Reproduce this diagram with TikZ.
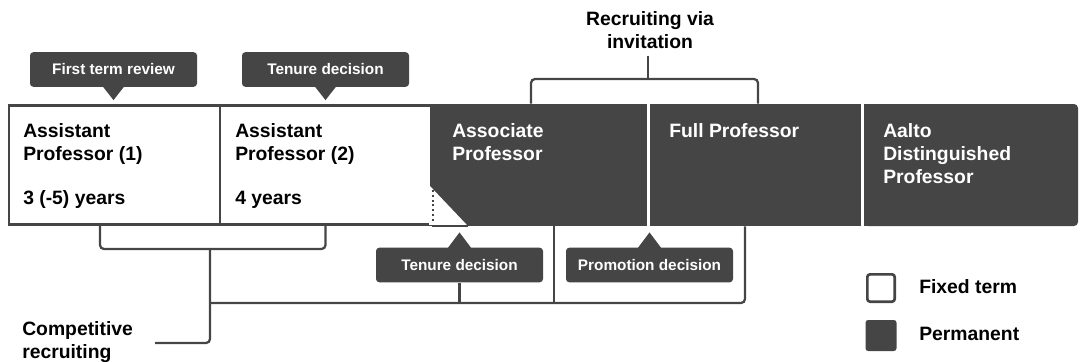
\documentclass[tikz,border=0pt]{standalone}
\usepackage{fontspec}
\setmainfont{Liberation Sans}
\usetikzlibrary{calc}
\definecolor{slate}{HTML}{454545}
\begin{document}
\begin{tikzpicture}[x=0.75pt,y=-0.75pt]
\tikzstyle{fixedbox}=[draw=slate, line width=2pt, fill=white, minimum height=89.25pt, inner sep=0pt]
\tikzstyle{permbox}=[fill=slate, minimum height=91.5pt, inner sep=0pt]
\tikzstyle{boxtext}=[anchor=north west, align=left, inner sep=0pt, font=\fontsize{14.5}{17.25}\selectfont\bfseries]
\tikzstyle{tag}=[fill=slate, text=white, rounded corners=2.5pt, minimum width=125.25pt, minimum height=26pt, inner sep=0pt, font=\fontsize{11.5}{13}\selectfont\bfseries]
\tikzstyle{link}=[draw=slate, line width=1.7pt, rounded corners=3pt]
\useasboundingbox (0,0) rectangle (1080,361);
\node[fixedbox, minimum width=158.25pt] (asst1) at (114.5,165) {};
\node[fixedbox, minimum width=158.25pt] (asst2) at (325.5,165) {};
\node[permbox, minimum width=162pt] (assoc) at (539,165) {};
\node[permbox, minimum width=158.25pt] (fullprof) at (755.5,165) {};
\node[permbox, minimum width=160.5pt, rounded corners=3pt] (aalto) at (971,165) {};
\fill[slate] (aalto.north west) rectangle ($(aalto.south west)+(10,0)$);
\fill[white] ($(assoc.south west)+(-1.5,-1.5)$) -- ($(assoc.south west)+(-1.5,-41)$) -- ($(assoc.south west)+(36,-1.5)$) -- cycle;
\draw[slate, line width=2pt] (asst2.south east) -- ++(36,0);
\draw[slate, line width=1.6pt, dotted] ($(asst2.south east)+(1,-5)$) -- ($(asst2.south east)+(1,-37)$);
\node[boxtext] (asst1txt) at (23,123) {Assistant\\Professor (1)\\[16pt]3 (-5) years};
\node[boxtext] (asst2txt) at (235,123) {Assistant\\Professor (2)\\[16pt]4 years};
\node[boxtext, text=white] (assoctxt) at (452,123) {Associate\\Professor};
\node[boxtext, text=white] (fulltxt) at (669,123) {Full Professor};
\node[boxtext, text=white] (aaltotxt) at (883,123) {Aalto\\Distinguished\\Professor};
\node[tag] (review) at (113.5,69.5) {First term review};
\node[tag] (tenure1) at (325.5,69.5) {Tenure decision};
\node[tag] (tenure2) at (459.5,265) {Tenure decision};
\node[tag] (promo) at (649.5,265) {Promotion decision};
\foreach \t in {review,tenure1}
  \fill[slate] (\t.south) ++(-11,-1) -- ++(22,0) -- ++(-11,14) -- cycle;
\foreach \t in {tenure2,promo}
  \fill[slate] (\t.north) ++(-12,1) -- ++(24,0) -- ++(-12,-16) -- cycle;
\node[boxtext] (compet) at (22,321) {Competitive\\recruiting};
\node[boxtext, anchor=north, align=center] (invite) at (650,11) {Recruiting via\\invitation};
\coordinate (split) at (210,249);
\coordinate (hub) at (210,303);
\coordinate (cend) at (155,343);
\coordinate (inv) at (648,79);
\draw[link] ($(asst1.south)+(-14.5,0)$) |- (split) -| (asst2.south);
\draw[link] (split) |- (cend);
\draw[link] (hub) -| ($(fullprof.south)+(-10.5,0)$);
\draw[link] ($(assoc.south)+(15,0)$) -- ($(assoc.south)+(15,77)$);
\draw[link] (tenure2.south) -- (tenure2.south |- hub);
\draw[link] ($(assoc.north)+(-8,0)$) |- (inv) -| ($(fullprof.north)+(2.5,0)$);
\draw[link] (invite.south -| inv) ++(0,7) -- (inv);
\node[draw=slate, line width=2pt, fill=white, minimum size=20.5pt, rounded corners=2pt, inner sep=0pt] (legfixed) at (881,288) {};
\node[fill=slate, minimum size=23.25pt, rounded corners=2pt, inner sep=0pt] (legperm) at (881,335.5) {};
\node[boxtext, anchor=west] (fixedlbl) at (919,287) {Fixed term};
\node[boxtext, anchor=west] (permlbl) at (919,334) {Permanent};
\end{tikzpicture}
\end{document}
